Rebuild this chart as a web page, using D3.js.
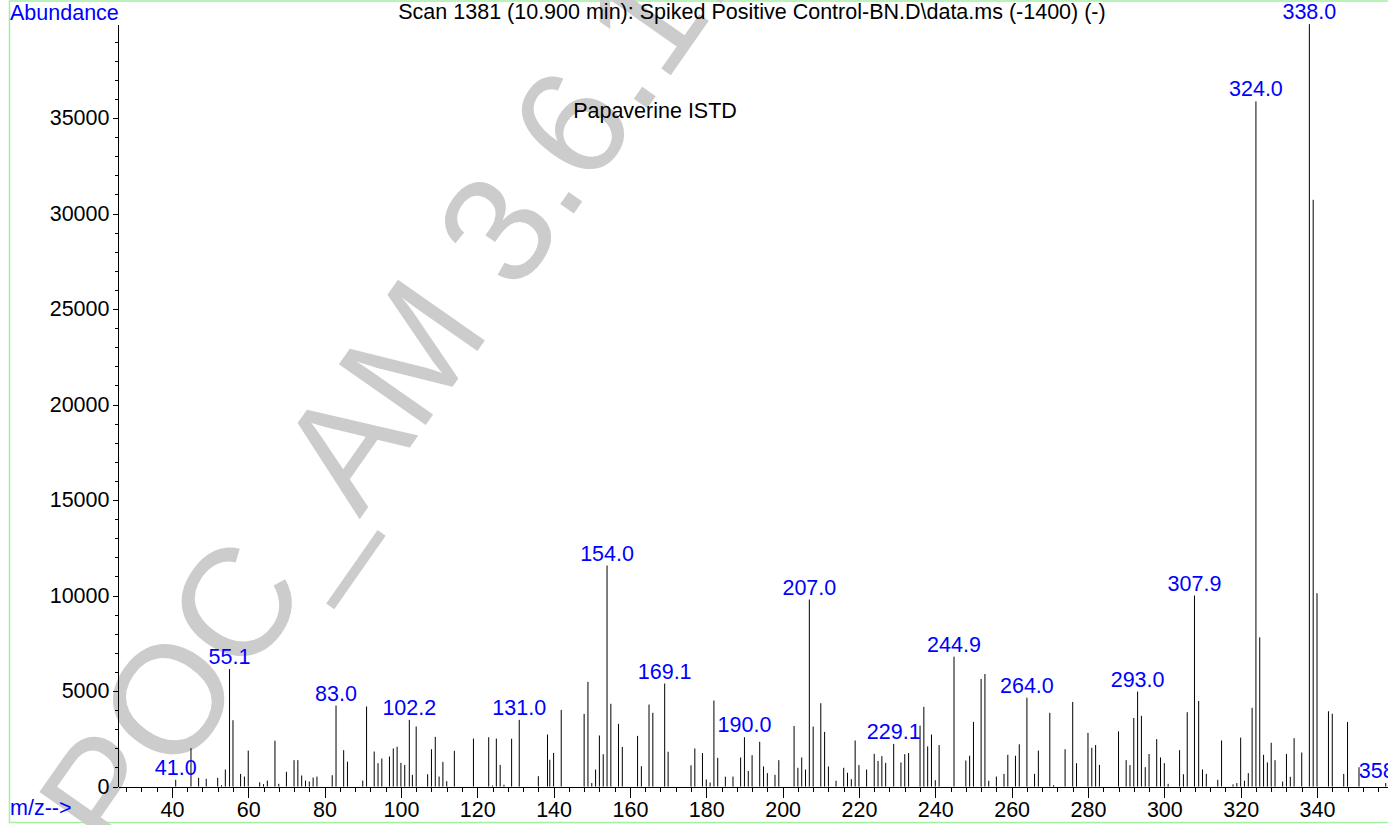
<!DOCTYPE html>
<html lang="en">
<head>
<meta charset="utf-8">
<title>Scan 1381 mass spectrum</title>
<script src="https://cdn.jsdelivr.net/npm/d3@7"></script>
<style>
  body { margin: 0; background: #fff; }
  svg text { font-family: "Liberation Sans", Arial, Helvetica, sans-serif; }
  .axis path, .axis line { fill: none; stroke: #000; shape-rendering: crispEdges; }
  .axis text { font-size: 21.5px; fill: #000; }
</style>
</head>
<body>
<script>
// peaks (m/z, abundance)
const mz = [
  41.0, 45, 47, 49, 52, 53, 54, 55.1, 56, 58, 59, 60, 63, 64, 65, 67, 68, 70, 72, 73, 74, 75, 76, 77, 78,
  82, 83.0, 85, 86, 90, 91, 93, 94, 95, 97, 98, 99, 100, 101, 102.2, 103, 104, 107, 108, 109, 110, 111, 112, 114,
  119, 123, 124, 125, 126, 127, 129, 131.0, 136, 138.4, 139, 140, 142, 148, 149, 150, 151, 152, 153, 154.0,
  155, 157, 158, 162, 163, 165, 166, 169.1, 170, 176, 177, 179, 180, 181, 182, 183, 185, 187, 189, 190.0,
  191, 192, 194, 195, 196, 198, 199, 203, 204, 205, 206, 207.0, 208, 210, 211, 212, 214, 216, 217, 218,
  219, 220, 222, 224, 225, 226, 227, 229.1, 231, 232, 233, 236, 237, 238, 239, 240, 241, 244.9, 248, 249,
  250, 252, 253, 254, 256, 258, 259, 261, 262, 264.0, 266, 267, 270, 271, 274, 276, 277, 280, 281, 282,
  283, 288, 290, 291, 292, 293.0, 294, 295, 296, 298, 299, 300, 301, 304, 305, 306, 307.9, 309, 310, 311,
  314, 315, 318, 319, 320, 321, 322, 323, 324.0, 325, 326, 327, 328, 329, 331, 332, 333, 334, 336, 338.0,
  339, 340, 343, 344, 347, 348, 351, 358
]
const abundance = [
  350, 2010, 455, 400, 455, 70, 890, 6150, 3470, 660, 520, 1880, 220, 120, 310, 2400, 140, 770, 1380, 1380, 575, 310, 260, 470, 520,
  590, 4240, 1900, 1300, 310, 4190, 1830, 1220, 1465, 1570, 1990, 2080, 1240, 1130, 3490, 610, 3140, 640, 1950, 2600, 520, 1290, 280, 1870,
  2510, 2580, 50, 2510, 1130, 90, 2500, 3490, 540, 2720, 1400, 1760, 4010, 3800, 5480, 180, 890, 2670, 1690, 11570,
  4330, 3280, 2070, 2650, 1060, 4290, 3860, 5390, 1820, 1110, 1990, 1750, 370, 210, 4500, 1500, 510, 520, 1520, 2580,
  810, 1640, 2340, 1050, 700, 610, 1380, 3170, 980, 1520, 890, 9790, 3140, 4360, 2860, 1050, 300, 980, 720, 380,
  2410, 1120, 890, 1710, 1340, 1590, 1240, 2230, 1260, 1690, 1750, 3190, 4170, 2100, 2720, 330, 2170, 6800, 1360, 1610,
  3380, 5630, 5890, 300, 520, 660, 1660, 1610, 2210, 4650, 660, 1880, 3860, 70, 1950, 4430, 1220, 2810, 2030, 2170,
  1130, 2890, 1380, 1120, 3590, 4970, 3700, 1010, 1700, 2480, 1520, 1220, 140, 1900, 640, 3890, 10000, 4480, 890, 660,
  350, 2410, 110, 180, 2560, 300, 700, 4120, 35870, 7810, 1660, 1260, 2290, 1380, 260, 1700, 510, 2530, 1780, 39920,
  30720, 10120, 3940, 3810, 660, 3380, 1010, 180
]
// annotated peaks
const labelMz = [41.0, 55.1, 83.0, 102.2, 131.0, 154.0, 169.1, 190.0, 207.0, 229.1, 244.9, 264.0, 293.0, 307.9, 324.0, 338.0, 358]
const labelText = ["41.0", "55.1", "83.0", "102.2", "131.0", "154.0", "169.1", "190.0", "207.0", "229.1", "244.9", "264.0", "293.0", "307.9", "324.0", "338.0", "358.1"]

const yMajor = [0, 5000, 10000, 15000, 20000, 25000, 30000, 35000]
const xMajor = [40, 60, 80, 100, 120, 140, 160, 180, 200, 220, 240, 260, 280, 300, 320, 340]

const w = 1388
const h = 825
const fontSize = 21.5

const svg = d3.select("body")
  .append("svg")
  .attr("width", w)
  .attr("height", h)

// frame
svg.append("rect")
  .attr("x", 9.5).attr("y", 1)
  .attr("width", w + 20).attr("height", 821.5)
  .attr("fill", "none")
  .attr("stroke", "#a3f0a3")
  .attr("stroke-width", 1.5)

// watermark sits under everything else
svg.append("text")
  .attr("transform", "translate(119, 863) rotate(-55)")
  .attr("font-size", 154)
  .attr("fill", "#cccccc")
  .text("POC_AM 3.6.1.1")

const xScale = d3.scaleLinear()
  .domain([25.88, 358.6])
  .range([118, 1388])

const yScale = d3.scaleLinear()
  .domain([0, 39900])
  .range([786.5, 24.5])

// minor ticks
svg.append("g")
  .attr("class", "axis")
  .attr("transform", "translate(0, 786.5)")
  .call(d3.axisBottom(xScale).tickValues(d3.range(28, 360, 4)).tickSize(5).tickSizeOuter(0).tickFormat(""))

svg.append("g")
  .attr("class", "axis")
  .attr("transform", "translate(117.5, 0)")
  .call(d3.axisLeft(yScale).tickValues(d3.range(0, 40000, 1000)).tickSize(3).tickSizeOuter(0).tickFormat(""))

// major ticks with labels
svg.append("g")
  .attr("class", "axis")
  .attr("transform", "translate(0, 786.5)")
  .call(d3.axisBottom(xScale).tickValues(xMajor).tickSize(11).tickPadding(4).tickSizeOuter(0))

svg.append("g")
  .attr("class", "axis")
  .attr("transform", "translate(117.5, 0)")
  .call(d3.axisLeft(yScale).tickValues(yMajor).tickFormat(d3.format("d")).tickSize(5).tickPadding(3).tickSizeOuter(0))

// sticks
svg.append("g")
  .selectAll("line")
  .data(mz)
  .enter()
  .append("line")
  .attr("x1", d => xScale(d))
  .attr("x2", d => xScale(d))
  .attr("y1", yScale(0))
  .attr("y2", (d, i) => yScale(abundance[i]))
  .attr("stroke", "#000")
  .attr("stroke-width", 1)

// peak labels
svg.append("g")
  .selectAll("text")
  .data(labelMz)
  .enter()
  .append("text")
  .attr("x", d => xScale(d))
  .attr("y", d => yScale(abundance[mz.indexOf(d)]) - 5)
  .attr("text-anchor", "middle")
  .attr("font-size", fontSize)
  .attr("fill", "#0000ff")
  .text((d, i) => labelText[i])

svg.append("text")
  .attr("x", 752).attr("y", 19)
  .attr("text-anchor", "middle")
  .attr("font-size", fontSize)
  .attr("fill", "#000")
  .text("Scan 1381 (10.900 min): Spiked Positive Control-BN.D\\data.ms (-1400) (-)")

svg.append("text")
  .attr("x", 10).attr("y", 20)
  .attr("font-size", fontSize)
  .attr("fill", "#0000ff")
  .text("Abundance")

svg.append("text")
  .attr("x", 10).attr("y", 815)
  .attr("font-size", fontSize)
  .attr("fill", "#0000ff")
  .text("m/z-->")

svg.append("text")
  .attr("x", 655).attr("y", 118)
  .attr("text-anchor", "middle")
  .attr("font-size", fontSize)
  .attr("fill", "#000")
  .text("Papaverine ISTD")
</script>
</body>
</html>
